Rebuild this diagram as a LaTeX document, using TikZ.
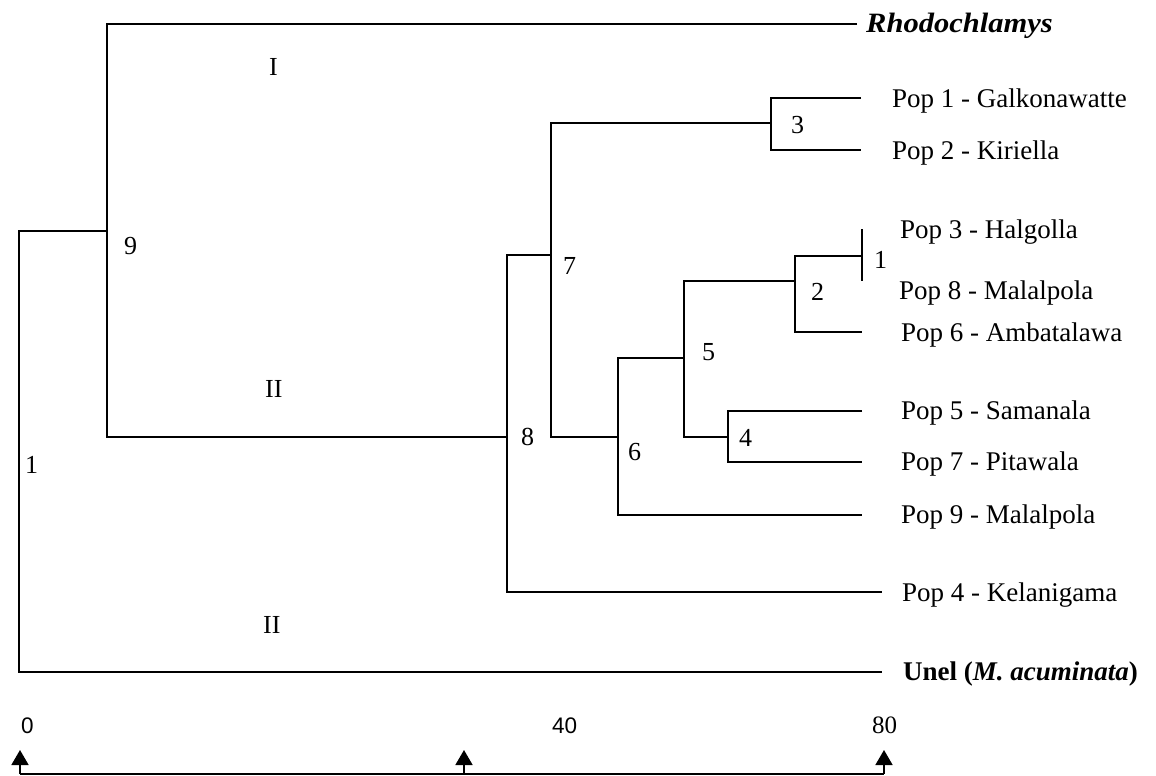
\documentclass[tikz,border=0pt]{standalone}
\usepackage{graphicx}
\usepackage{fontspec}
\setmainfont{Liberation Serif}
\newfontfamily\axsans{Liberation Sans}
\usetikzlibrary{arrows.meta}
\begin{document}
\begin{tikzpicture}[x=1pt,y=-1pt,
  tree/.style={line width=1.7pt, line join=miter},
  leaf/.style={anchor=base west, inner sep=0pt, font=\fontsize{27}{30}\selectfont},
  num/.style={anchor=base west, inner sep=0pt, font=\fontsize{26}{30}\selectfont},
  axlab/.style={anchor=base west, inner sep=0pt},
  axarrow/.style={line width=1.7pt, -{Triangle[width=17pt,length=15pt]}}]
\useasboundingbox (0,0) rectangle (1156,776);
% junctions
\coordinate (R)  at (19,450);
\coordinate (J9) at (107,231);
\coordinate (J8) at (507,437);
\coordinate (J7) at (551,255);
\coordinate (J3) at (771,123);
\coordinate (J6) at (618,437);
\coordinate (J5) at (684,358);
\coordinate (J2) at (795,281);
\coordinate (J1) at (862,256);
\coordinate (J4) at (728,437);
% leaf ends
\coordinate (Lrh) at (857,24);
\coordinate (L1) at (861,98);
\coordinate (L2) at (861,150);
\coordinate (L3) at (862,229);
\coordinate (L8) at (862,281);
\coordinate (L6) at (862,332);
\coordinate (L5) at (862,411);
\coordinate (L7) at (862,462);
\coordinate (L9) at (862,515);
\coordinate (L4) at (882,592);
\coordinate (LU) at (882,672);
% tree
\draw[tree] (J9) -| (R) |- (LU);
\draw[tree] (Lrh) -| (J9) |- (J8);
\draw[tree] (J7) -| (J8) |- (L4);
\draw[tree] (J3) -| (J7) |- (J6);
\draw[tree] (L1) -| (J3) |- (L2);
\draw[tree] (J5) -| (J6) |- (L9);
\draw[tree] (J2) -| (J5) |- (J4);
\draw[tree] (J1) -| (J2) |- (L6);
\draw[tree] (L3) -- (L8);
\draw[tree] (L5) -| (J4) |- (L7);
% leaf labels
\node[leaf] (trh) at (866,33) {\fontsize{28}{30}\selectfont\scalebox{1.09}[1]{\textbf{\textit{Rhodochlamys}}}};
\node[leaf] (t1) at (892,107) {Pop 1 - Galkonawatte};
\node[leaf] (t2) at (892,159) {Pop 2 - Kiriella};
\node[leaf] (t3) at (900,238) {Pop 3 - Halgolla};
\node[leaf] (t8) at (899,299) {Pop 8 - Malalpola};
\node[leaf] (t6) at (901,341) {Pop 6 - Ambatalawa};
\node[leaf] (t5) at (901,419) {Pop 5 - Samanala};
\node[leaf] (t7) at (901,470) {Pop 7 - Pitawala};
\node[leaf] (t9) at (901,523) {Pop 9 - Malalpola};
\node[leaf] (t4) at (902,601) {Pop 4 - Kelanigama};
\node[leaf] (tu) at (903,680) {\textbf{Unel (\textit{M. acuminata})}};
% node numbers
\node[num] (c9) at (124,254) {9};
\node[num] (c1r) at (25,473) {1};
\node[num] (c8) at (521,445) {8};
\node[num] (c7) at (563,274) {7};
\node[num] (c3) at (791,133) {3};
\node[num] (c1) at (874,268) {1};
\node[num] (c2) at (811,300) {2};
\node[num] (c5) at (702,360) {5};
\node[num] (c4) at (739,446) {4};
\node[num] (c6) at (628,460) {6};
\node[num] (gI) at (269,75) {I};
\node[num] (gII) at (265,397) {II};
\node[num] (gIIb) at (263,633) {II};
% axis
\coordinate (A0) at (20,774);
\coordinate (A40) at (464,774);
\coordinate (A80) at (884,774);
\coordinate (T0) at (20,750);
\coordinate (T40) at (464,750);
\coordinate (T80) at (884,750);
\draw[tree] (A0) -- (A80);
\draw[axarrow] (A0) -- (T0);
\draw[axarrow] (A40) -- (T40);
\draw[axarrow] (A80) -- (T80);
\node[axlab, font=\axsans\fontsize{22.5}{26}\selectfont] (x0) at (21,733) {0};
\node[axlab, font=\axsans\fontsize{22.5}{26}\selectfont] (x40) at (552,733) {40};
\node[axlab, font=\fontsize{25}{28}\selectfont] (x80) at (872,733) {80};
\end{tikzpicture}
\end{document}
